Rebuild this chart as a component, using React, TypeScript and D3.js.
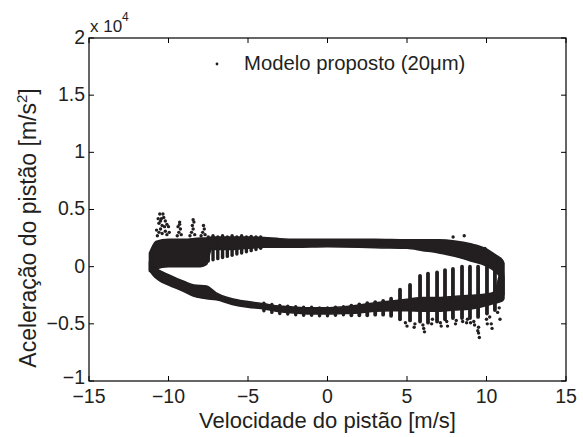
import React from 'react';
import * as d3 from 'd3';

// ---- data (velocity m/s, acceleration x10^4 m/s^2) ----
const upperV = [-11.2, -11.0, -10.8, -10.0, -9.0, -8.0, -7.6, -7.3, -6.0, -5.0, -4.0, -3.0, -2.0, 0, 2, 3, 5, 6, 7, 8, 9, 10, 10.6, 11.0, 11.1];
const upperLo = [-0.04, -0.05, -0.02, 0.0, 0.0, 0.0, 0.02, 0.15, 0.15, 0.16, 0.17, 0.17, 0.17, 0.175, 0.17, 0.165, 0.16, 0.14, 0.12, 0.09, 0.05, 0.005, -0.05, -0.12, -0.25];
const upperHi = [0.12, 0.18, 0.22, 0.24, 0.24, 0.25, 0.25, 0.26, 0.26, 0.26, 0.255, 0.245, 0.24, 0.24, 0.24, 0.24, 0.235, 0.235, 0.235, 0.225, 0.2, 0.155, 0.1, 0.06, 0.03];

const lowerV = [11.1, 11.0, 10.5, 10, 9, 8, 7, 6, 5, 4, 3, 2, 1, 0, -1, -2, -3, -4, -5, -6, -7, -7.6, -8.4, -9, -10, -10.6, -11.0, -11.2];
const lowerLo = [-0.28, -0.3, -0.32, -0.34, -0.37, -0.38, -0.39, -0.39, -0.385, -0.385, -0.39, -0.405, -0.41, -0.415, -0.415, -0.405, -0.395, -0.37, -0.355, -0.33, -0.29, -0.28, -0.26, -0.22, -0.16, -0.12, -0.07, -0.03];
const lowerHi = [-0.1, 0.0, -0.22, -0.24, -0.25, -0.26, -0.27, -0.27, -0.285, -0.3, -0.315, -0.335, -0.35, -0.36, -0.36, -0.355, -0.345, -0.325, -0.305, -0.28, -0.23, -0.17, -0.16, -0.13, -0.07, -0.03, 0.0, 0.03];

const leftStripeV = [-7.5, -7.2, -6.9, -6.6, -6.3, -6.0, -5.7, -5.4, -5.1, -4.8, -4.5, -4.2];
const leftStripeTop = [0.26, 0.27, 0.26, 0.27, 0.26, 0.27, 0.26, 0.27, 0.26, 0.265, 0.26, 0.26];
const leftStripeBottom = [0.05, 0.06, 0.07, 0.08, 0.09, 0.1, 0.11, 0.12, 0.13, 0.14, 0.15, 0.16];

const rippleV = [-4.0, -3.5, -3.0, -2.5, -2.0, -1.5, -1.0, -0.5, 0.0, 0.5, 1.0];
const rippleTop = [-0.32, -0.33, -0.34, -0.345, -0.35, -0.355, -0.355, -0.36, -0.36, -0.355, -0.35];
const rippleBottom = [-0.385, -0.4, -0.41, -0.415, -0.42, -0.425, -0.425, -0.43, -0.43, -0.425, -0.42];

const rightStripeV = [1.5, 2.0, 2.5, 3.0, 3.5, 4.0, 4.56, 5.19, 5.82, 6.32, 6.89, 7.39, 7.89, 8.46, 8.96, 9.47, 10.03, 10.53];
const rightStripeTop = [-0.34, -0.33, -0.32, -0.31, -0.3, -0.28, -0.2, -0.16, -0.08, -0.06, -0.05, -0.03, -0.02, 0.0, 0.0, 0.0, 0.0, 0.01];
const rightStripeBottom = [-0.425, -0.425, -0.425, -0.42, -0.42, -0.43, -0.46, -0.47, -0.48, -0.49, -0.48, -0.46, -0.45, -0.45, -0.45, -0.44, -0.41, -0.38];

const leftDotV = [
  -10.7, -10.6, -10.5, -10.4, -10.6, -10.45, -10.3, -10.2, -10.1, -10.0, -10.2, -10.4, -10.1, -9.95, -10.55, -10.35, -10.75, -10.65, -10.25, -10.5,
  -9.45, -9.35, -9.25, -9.4, -9.3, -9.2, -9.3,
  -8.65, -8.55, -8.45, -8.5, -8.4, -8.45, -8.35,
  -7.95, -7.85, -7.75, -7.8, -7.7,
];
const leftDotA = [
  0.27, 0.3, 0.33, 0.36, 0.38, 0.42, 0.43, 0.4, 0.37, 0.35, 0.31, 0.29, 0.28, 0.3, 0.46, 0.46, 0.32, 0.42, 0.35, 0.4,
  0.27, 0.3, 0.33, 0.35, 0.37, 0.28, 0.39,
  0.27, 0.3, 0.33, 0.36, 0.39, 0.41, 0.28,
  0.27, 0.3, 0.33, 0.36, 0.28,
];

const rightDotV = [
  4.9, 5.0, 5.5, 5.45, 6.0, 6.05, 6.1, 6.6, 6.55, 7.1, 7.15, 7.5, 7.55, 8.1, 8.05, 8.8, 8.75, 9.2, 9.25, 9.5, 9.5, 9.55, 9.45,
  10.0, 10.05, 10.2, 10.3, 10.35, 10.8, 10.85, 10.1, 10.6, 10.7, 9.0, 8.5,
  7.9, 8.6, 9.9,
];
const rightDotA = [
  -0.49, -0.52, -0.5, -0.53, -0.51, -0.54, -0.57, -0.46, -0.5, -0.49, -0.52, -0.48, -0.52, -0.47, -0.5, -0.46, -0.49, -0.48, -0.51, -0.53, -0.58, -0.62, -0.56,
  -0.46, -0.5, -0.44, -0.5, -0.54, -0.36, -0.46, -0.27, -0.3, -0.4, -0.49, -0.48,
  0.26, 0.27, 0.16,
];

const xTicks = [-15, -10, -5, 0, 5, 10, 15];
const yTicks = [-1, -0.5, 0, 0.5, 1, 1.5, 2];
const xTickLabels = ['\u221215', '\u221210', '\u22125', '0', '5', '10', '15'];
const yTickLabels = ['\u22121', '\u22120.5', '0', '0.5', '1', '1.5', '2'];

const legendLabel = 'Modelo proposto (20\u03bcm)';
const xLabel = 'Velocidade do pist\u00e3o [m/s]';
const yLabel = 'Acelera\u00e7\u00e3o do pist\u00e3o [m/s';

const W = 583;
const H = 437;
const L = 89, R = 566, T = 38, B = 381;
const INK = '#231f20';
const FONT = '"Liberation Sans", Arial, Helvetica, sans-serif';

type Band = { v: number; lo: number; hi: number };

export default function App() {
  const x = d3.scaleLinear().domain([-15, 15]).range([L, R]);
  const y = d3.scaleLinear().domain([-1, 2]).range([B, T]);

  const upper: Band[] = upperV.map((v, i) => ({ v, lo: upperLo[i], hi: upperHi[i] }));
  const lower: Band[] = lowerV.map((v, i) => ({ v, lo: lowerLo[i], hi: lowerHi[i] }));
  const area = d3
    .area<Band>()
    .x((d) => x(d.v))
    .y0((d) => y(d.lo))
    .y1((d) => y(d.hi))
    .curve(d3.curveMonotoneX);

  const upperSorted = upper.slice().sort((a, b) => a.v - b.v);
  const lowerSorted = lower.slice().sort((a, b) => a.v - b.v);

  const tick = 5;

  const stripes = (vs: number[], tops: number[], bots: number[], w: number, k: string) =>
    vs.map((v, i) => (
      <line key={`${k}${i}`} x1={x(v)} x2={x(v)} y1={y(tops[i])} y2={y(bots[i])} stroke={INK} strokeWidth={w} strokeLinecap="round" />
    ));

  return (
    <div style={{ position: 'absolute', left: 0, top: 0 }}>
      <svg width={W} height={H} viewBox={`0 0 ${W} ${H}`} style={{ display: 'block', background: '#fff' }}>
        <rect x={0} y={0} width={W} height={H} fill="#fff" />
        {/* bands */}
        <path d={area(upperSorted) || ''} fill={INK} stroke={INK} strokeWidth={1.5} />
        <path d={area(lowerSorted) || ''} fill={INK} stroke={INK} strokeWidth={1.5} />
        {/* stripes */}
        {stripes(leftStripeV, leftStripeTop, leftStripeBottom, 3.4, 'ls')}
        {stripes(rippleV, rippleTop, rippleBottom, 3.4, 'rp')}
        {stripes(rightStripeV, rightStripeTop, rightStripeBottom, 3.8, 'rs')}
        {/* scattered points */}
        {leftDotV.map((v, i) => (
          <circle key={`ld${i}`} cx={x(v)} cy={y(leftDotA[i])} r={1.7} fill={INK} />
        ))}
        {rightDotV.map((v, i) => (
          <circle key={`rd${i}`} cx={x(v)} cy={y(rightDotA[i])} r={1.7} fill={INK} />
        ))}

        {/* axes box */}
        <rect x={L} y={T} width={R - L} height={B - T} fill="none" stroke="#000" strokeWidth={1.2} />
        {xTicks.map((t) => (
          <g key={`xt${t}`}>
            <line x1={x(t)} x2={x(t)} y1={B} y2={B - tick} stroke="#000" strokeWidth={1} />
            <line x1={x(t)} x2={x(t)} y1={T} y2={T + tick} stroke="#000" strokeWidth={1} />
          </g>
        ))}
        {yTicks.map((t) => (
          <g key={`yt${t}`}>
            <line x1={L} x2={L + tick} y1={y(t)} y2={y(t)} stroke="#000" strokeWidth={1} />
            <line x1={R} x2={R - tick} y1={y(t)} y2={y(t)} stroke="#000" strokeWidth={1} />
          </g>
        ))}
        {/* tick labels */}
        <g fontFamily={FONT} fontSize={19.5} fill={INK}>
          {xTicks.map((t, i) => (
            <text key={`xl${t}`} x={x(t)} y={B + 22} textAnchor="middle">
              {xTickLabels[i]}
            </text>
          ))}
          {yTicks.map((t, i) => (
            <text key={`yl${t}`} x={L - 4} y={y(t)} dy={t === -1 ? '0.15em' : '0.3em'} textAnchor="end">
              {yTickLabels[i]}
            </text>
          ))}
        </g>
        {/* exponent */}
        <text x={L + 1} y={32} fontFamily={FONT} fontSize={17} fill={INK}>
          x 10
        </text>
        <text x={L + 33} y={21} fontFamily={FONT} fontSize={12} fill={INK}>
          4
        </text>
        {/* axis labels */}
        <text x={(L + R) / 2} y={428} textAnchor="middle" fontFamily={FONT} fontSize={22} fill={INK}>
          {xLabel}
        </text>
        <text transform={`translate(36,228) rotate(-90)`} textAnchor="middle" fontFamily={FONT} fontSize={23} fill={INK}>
          {yLabel}
          <tspan dy={-9} fontSize={15}>2</tspan>
          <tspan dy={9}>]</tspan>
        </text>
        {/* legend */}
        <circle cx={217} cy={64} r={1.4} fill={INK} />
        <text x={244} y={70} fontFamily={FONT} fontSize={20.3} fill={INK}>
          {legendLabel}
        </text>
      </svg>
    </div>
  );
}
